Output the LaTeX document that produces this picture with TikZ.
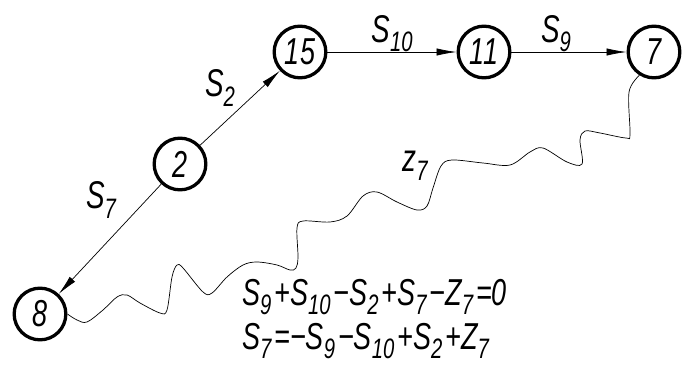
\documentclass[tikz,border=0pt]{standalone}
\usepackage{fontspec}
\setmainfont{Liberation Sans}[FakeStretch=0.72]
\usepackage{tikz}
\usetikzlibrary{arrows.meta}
\newcommand{\sbs}[1]{\raisebox{-0.45ex}{\fontsize{24}{26}\selectfont #1}}
\newcommand{\gap}{\kern2.5pt}

\begin{document}
\begin{tikzpicture}[
  x=0.03cm, y=-0.03cm,
  vertex/.style={circle, draw, line width=2.8pt, minimum size=1.55cm, inner sep=0pt, font=\fontsize{32}{34}\selectfont\itshape},
  link/.style={-{Latex[length=6mm, width=2.2mm]}, line width=0.6pt},
  wave/.style={line width=0.6pt},
  lbl/.style={font=\fontsize{33}{36}\selectfont\itshape},
  eqn/.style={font=\fontsize{32}{36}\selectfont\itshape, anchor=north west, inner sep=0pt, align=left}
]
\useasboundingbox (0,0) rectangle (684,370);

% Vertices
\node[vertex] (n15) at (300,52) {15};
\node[vertex] (n11) at (484,52) {11};
\node[vertex] (n7) at (654,52) {7};
\node[vertex] (n2) at (180,164) {2};
\node[vertex] (n8) at (40,314) {8};

% Arcs
\draw[link] (n15) -- (n11);
\draw[link] (n11) -- (n7);
\draw[link] (n2) -- (n15);
\draw[link] (n2) -- (n8);
\node[lbl] (s10) at (392,34) {S\sbs{10}};
\node[lbl] (s9) at (556,34) {S\sbs{9}};
\node[lbl] (s2) at (220,88) {S\sbs{2}};
\node[lbl] (s7) at (101,200) {S\sbs{7}};

% Closing arc
\draw[wave] plot[smooth, tension=0.55] coordinates {(n7.238) (629,92) (630,134) (626,138) (600,133) (585,131) (580,140) (582,164) (567,162) (543,148) (530,152) (510,165) (483,163) (452,160) (441,166) (433,188) (427,206) (417,210) (397,202) (377,192) (363,196) (347,216) (330,222) (303,221) (297,228) (298,257) (296,268) (290,270) (277,265) (257,262) (243,265) (227,277) (212,293) (203,292) (183,268) (177,265) (172,277) (167,310) (160,313) (140,303) (127,295) (117,297) (103,310) (87,322) (77,320) (n8.east)};
\node[lbl] (z7) at (415,166) {z\sbs{7}};

% Equations
\node[eqn] (eqs) at (242,279) {S\sbs{9}\gap+S\sbs{10}\gap−S\sbs{2}\gap+S\sbs{7}\gap−Z\sbs{7}\gap=0\\[2pt]
  S\sbs{7}\gap=−S\sbs{9}\gap−S\sbs{10}\gap+S\sbs{2}\gap+Z\sbs{7}};
\end{tikzpicture}
\end{document}
